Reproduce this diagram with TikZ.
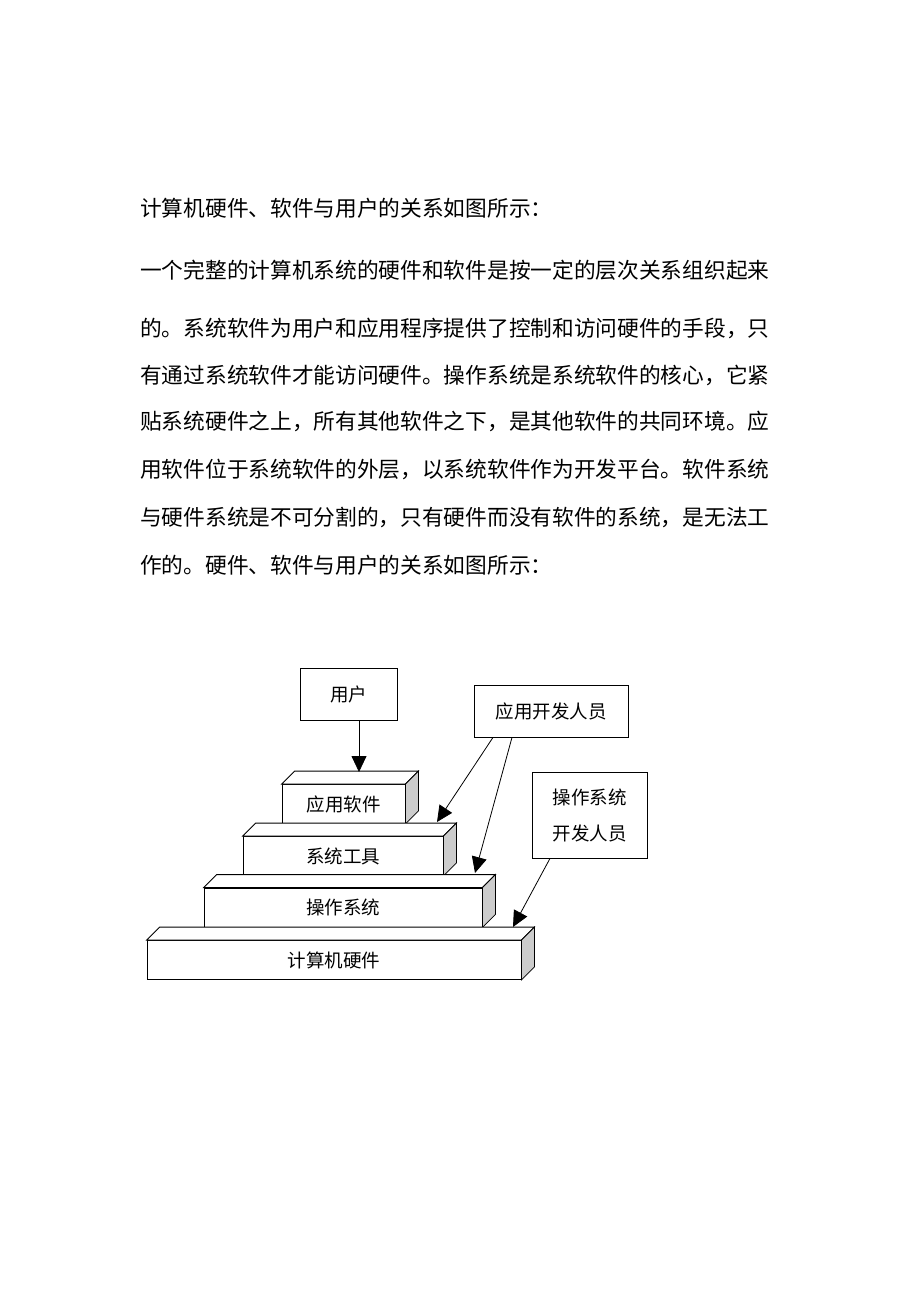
\documentclass[tikz,border=0pt]{standalone}
\usepackage{fontspec}
\setmainfont{Noto Sans CJK SC}
\usetikzlibrary{positioning, shapes, arrows.meta, calc}

\begin{document}
\begin{tikzpicture}[x=1pt, y=-1pt,
    line/.style={font=\fontsize{21.7}{21.7}\selectfont, inner sep=0pt, anchor=west},
    box/.style={draw, thick, font=\fontsize{18.5}{20}\selectfont, align=center, inner sep=0pt},
    block/.style={draw, thick, fill=white, font=\fontsize{18.5}{18.5}\selectfont, inner sep=0pt, minimum height=39pt},
    arr/.style={thick, -{Triangle[length=16pt, width=15pt]}}]
  \useasboundingbox (0,0) rectangle (920,1302);

  % Text
  \foreach \y/\t [count=\k] in {208/计算机硬件、软件与用户的关系如图所示：,
      270/一个完整的计算机系统的硬件和软件是按一定的层次关系组织起来,
      328/的。系统软件为用户和应用程序提供了控制和访问硬件的手段，只,
      375/有通过系统软件才能访问硬件。操作系统是系统软件的核心，它紧,
      421/贴系统硬件之上，所有其他软件之下，是其他软件的共同环境。应,
      469/用软件位于系统软件的外层，以系统软件作为开发平台。软件系统,
      517/与硬件系统是不可分割的，只有硬件而没有软件的系统，是无法工,
      565/作的。硬件、软件与用户的关系如图所示：}
  \node[line] (line\k) at (140,\y) {\t};

  % Blocks
  \foreach \n/\x/\y/\w/\t in {app/343.5/804/123/应用软件, tools/343/856/200/系统工具,
      os/343/907.5/278/操作系统, hw/334/960/374/计算机硬件}
  {
    \node[block, minimum width=\w pt] (\n) at (\x,\y) {\t};
    \draw[thick, fill=white] (\n.north west) -- ++(13,-13) -- ($(\n.north east)+(13,-13)$) -- (\n.north east) -- cycle;
    \draw[thick, fill=gray!40] (\n.north east) -- ++(13,-13) -- ($(\n.south east)+(13,-13)$) -- (\n.south east) -- cycle;
  }

  % Boxes
  \node[box, minimum width=97pt, minimum height=52pt] (user) at (348.5,694) {用户};
  \node[box, minimum width=154pt, minimum height=52pt] (appdev) at (551,711) {应用开发人员};
  \node[box, minimum width=115pt, minimum height=86pt, font=\fontsize{18.5}{36}\selectfont] (osdev) at (589.5,815) {操作系统\\开发人员};

  % Arrows
  \coordinate (tip1) at (359,772);
  \coordinate (tip2) at (437,822);
  \coordinate (tip3) at (475,873);
  \coordinate (tip4) at (513,927);
  \draw[arr] (user.south -| tip1) -- (tip1);
  \draw[arr] (appdev.south -| 493,0) -- (tip2);
  \draw[arr] (appdev.south -| 512,0) -- (tip3);
  \draw[arr] (osdev.south -| 550,0) -- (tip4);
\end{tikzpicture}
\end{document}
